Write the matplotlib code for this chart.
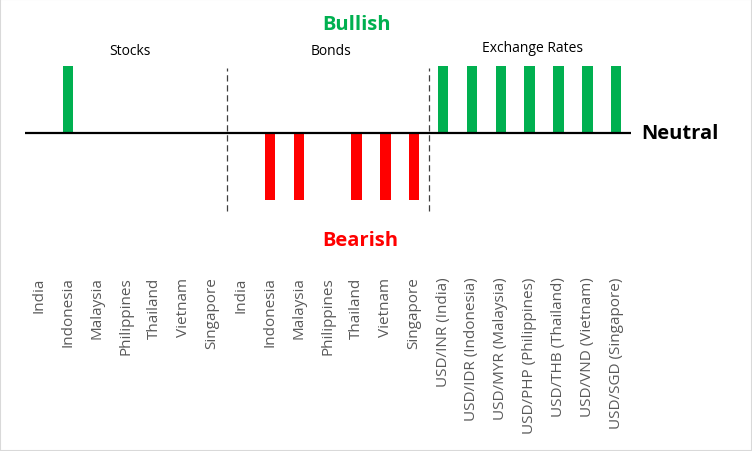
import matplotlib.pyplot as plt
from matplotlib.patches import Rectangle

# data
countries = ["India", "Indonesia", "Malaysia", "Philippines", "Thailand", "Vietnam", "Singapore"]
fx_labels = ["USD/INR (India)", "USD/IDR (Indonesia)", "USD/MYR (Malaysia)",
             "USD/PHP (Philippines)", "USD/THB (Thailand)", "USD/VND (Vietnam)",
             "USD/SGD (Singapore)"]
stocks = [0, 1, 0, 0, 0, 0, 0]
bonds = [0, -1, -1, 0, -1, -1, -1]
fx = [1, 1, 1, 1, 1, 1, 1]

labels = countries + countries + fx_labels
values = stocks + bonds + fx

GREEN = "#00B050"
RED = "#FF0000"

plt.rcParams["font.family"] = ["Open Sans", "DejaVu Sans"]

fig = plt.figure(figsize=(7.52, 4.52), dpi=100)
W, H = 752, 452
Y0, U = 134.0, 67.0   # pixel row of the zero line, pixels per unit
TOP, BOT = 10, 272
ax = fig.add_axes([24.6 / W, (H - BOT) / H, 606 / W, (BOT - TOP) / H])
ax.set_xlim(-0.5, len(labels) - 0.5)
ax.set_ylim(-(BOT - Y0) / U, (Y0 - TOP) / U)

x = list(range(len(labels)))
colors = [GREEN if v > 0 else RED for v in values]
ax.bar(x, values, width=0.36, color=colors)
ax.axhline(0, color="black", lw=1.6)

# separators between groups
for sx in [6.5, 13.5]:
    ax.plot([sx, sx], [-1.16, 0.97], color="#404040", lw=0.9, ls=(0, (5, 3)))

ax.text(3.15, 1.23, "Stocks", ha="center", va="center", fontsize=10, color="black")
ax.text(10.12, 1.23, "Bonds", ha="center", va="center", fontsize=10, color="black")
ax.text(17.1, 1.28, "Exchange Rates", ha="center", va="center", fontsize=10, color="black")
ax.text(11.02, 1.62, "Bullish", ha="center", va="center", fontsize=14.5,
        fontweight="bold", color=GREEN)
ax.text(11.13, -1.6, "Bearish", ha="center", va="center", fontsize=14.5,
        fontweight="bold", color=RED)
ax.text(22.2, 0, "Neutral", ha="center", va="center", fontsize=14.5,
        fontweight="bold", color="black", clip_on=False)

ax.set_xticks(x)
ax.set_xticklabels(labels, rotation=90, fontsize=11, color="#595959")
ax.tick_params(axis="x", length=0, pad=4)
ax.set_yticks([])
for s in ax.spines.values():
    s.set_visible(False)

fig.patches.append(Rectangle((0, 0), 1, 1, transform=fig.transFigure, fill=False,
                             edgecolor="#D9D9D9", lw=1.5))

fig.savefig("out.png", dpi=100)
